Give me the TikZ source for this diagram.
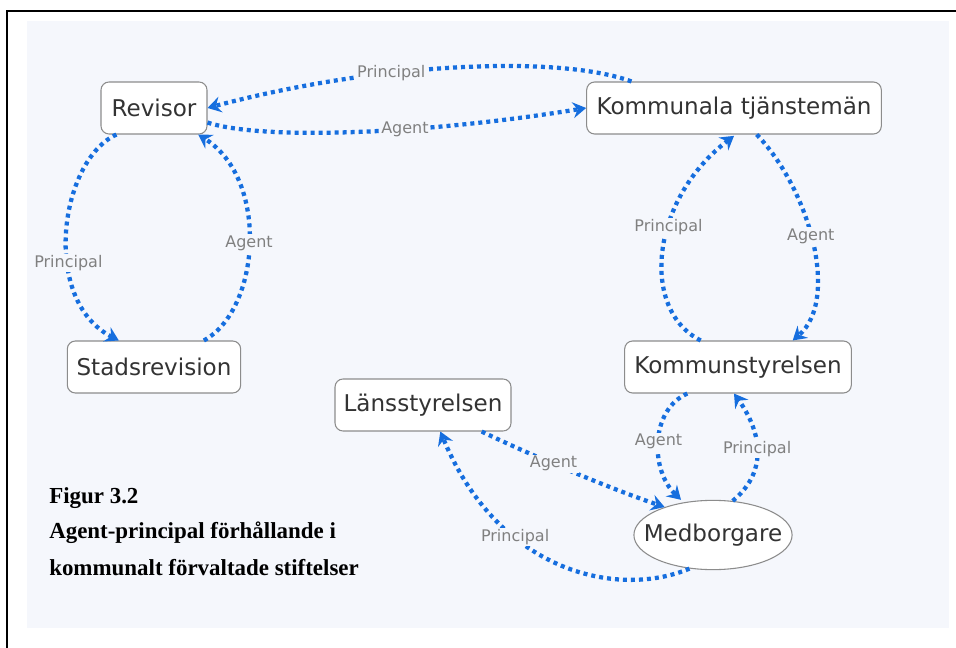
\documentclass[tikz,border=0pt]{standalone}
\usepackage{fontspec}
\usetikzlibrary{arrows.meta,shapes.geometric}
\newfontfamily\nodefont{DejaVu Sans}
\newfontfamily\capfont{Liberation Serif}
\definecolor{panelbg}{RGB}{245,247,252}
\definecolor{pilblue}{RGB}{22,110,222}
\definecolor{ramgray}{RGB}{140,140,140}
\definecolor{etikgray}{RGB}{128,128,128}
\tikzset{
  box/.style={draw=ramgray, line width=0.8pt, fill=white, rounded corners=6pt,
    minimum height=39pt, inner xsep=6pt, text=black!80,
    font=\nodefont\fontsize{17.3pt}{20pt}\selectfont},
  oval/.style={box, ellipse, rounded corners=0pt},
  pil/.style={draw=pilblue, line width=3.2pt, dash pattern=on 3pt off 3pt,
    -{Stealth[length=10pt,width=12pt,inset=3.5pt]}},
  etikett/.style={fill=panelbg, inner sep=1pt, text=etikgray,
    font=\nodefont\fontsize{12pt}{14pt}\selectfont},
  rubrik/.style={anchor=base west, inner sep=0pt,
    font=\capfont\bfseries\fontsize{17.2pt}{20pt}\selectfont}
}
\begin{document}
\begin{tikzpicture}[x=0.75pt,y=-0.75pt]
  \useasboundingbox (0,0) rectangle (956,648);
  % Ram och bakgrund
  \fill[panelbg] (27,21) rectangle (949,628);
  \draw[line width=1.6pt] (7,650) |- (958,11);

  % Noder
  \node[box, minimum width=79.5pt] (revisor) at (154,108) {Revisor};
  \node[box, minimum width=221pt] (kt) at (734,108) {Kommunala tjänstemän};
  \node[box, minimum width=130pt] (stad) at (154,367) {Stadsrevision};
  \node[box, minimum width=132pt] (lans) at (423,405) {Länsstyrelsen};
  \node[box, minimum width=170pt] (ks) at (738,367) {Kommunstyrelsen};
  \node[oval, inner xsep=-10pt, inner ysep=10pt, minimum height=0pt] (med) at (713,535) {Medborgare};

  % Pilar
  \draw[pil] ([xshift=34pt]kt.north west) .. controls (560,55) and (380,62) .. (revisor.east)
    node[etikett, pos=0.64] {Principal};
  \draw[pil] ([yshift=9pt]revisor.south east) .. controls (260,140) and (420,135) .. (kt.west)
    node[etikett, pos=0.62] {Agent};
  \draw[pil] ([xshift=12pt]revisor.south west) .. controls (60,160) and (40,300) .. ([xshift=39pt]stad.north west)
    node[etikett, pos=0.62] {Principal};
  \draw[pil] ([xshift=-28pt]stad.north east) .. controls (260,310) and (270,180) .. ([xshift=-7pt]revisor.south east)
    node[etikett, pos=0.5] {Agent};
  \draw[pil] ([xshift=-28pt]ks.north) .. controls (640,310) and (650,200) .. ([yshift=-1pt]kt.south)
    node[etikett, pos=0.6] {Principal};
  \draw[pil] ([xshift=17pt]kt.south) .. controls (810,190) and (840,300) .. ([xshift=41pt]ks.north)
    node[etikett, pos=0.47] {Agent};
  \draw[pil] ([xshift=-38pt]ks.south) .. controls (650,410) and (650,470) .. ([xshift=-24pt]med.north)
    node[etikett, pos=0.5] {Agent};
  \draw[pil] (med.60) .. controls (770,470) and (760,430) .. ([xshift=-3pt]ks.south)
    node[etikett, pos=0.5] {Principal};
  \draw[pil] ([xshift=44pt]lans.south) .. controls (520,450) and (600,485) .. (med.150)
    node[etikett, pos=0.45] {Agent};
  \draw[pil] (med.235) .. controls (620,598) and (500,575) .. ([xshift=13pt]lans.south)
    node[etikett, pos=0.67] {Principal};

  % Figurtext
  \node[rubrik] (fig) at (49,503) {Figur 3.2};
  \node[rubrik] (rad1) at (49,538) {Agent-principal förhållande i};
  \node[rubrik] (rad2) at (49,575) {kommunalt förvaltade stiftelser};
\end{tikzpicture}
\end{document}
